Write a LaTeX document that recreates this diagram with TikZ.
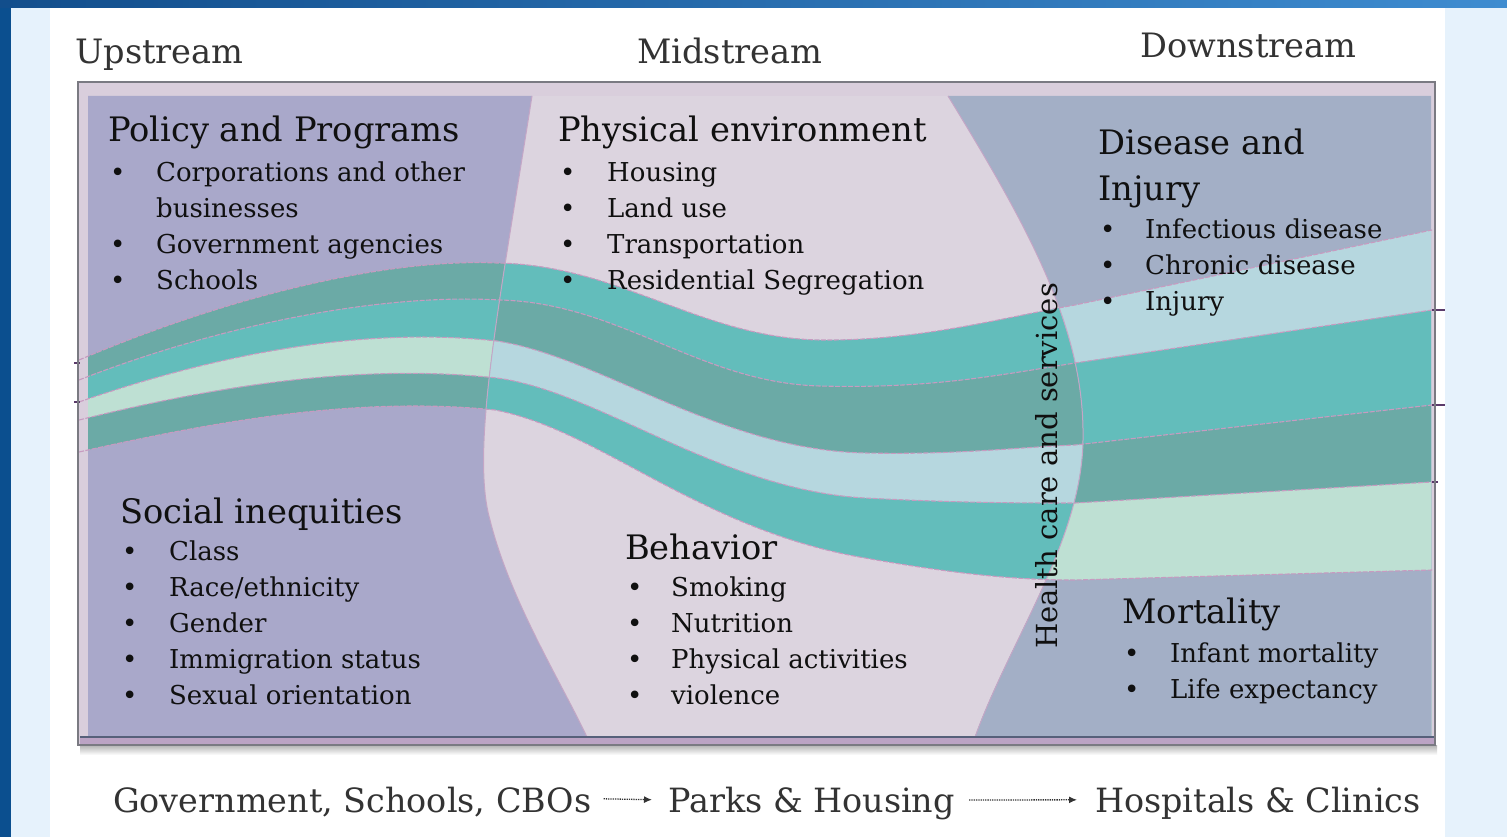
\documentclass[tikz,border=0pt]{standalone}
\usepackage{fontspec}
\setmainfont{DejaVu Serif}
\usetikzlibrary{arrows.meta}
\definecolor{bgblue}{HTML}{E6F2FC}
\definecolor{darkblue}{HTML}{0B4F8F}
\definecolor{topA}{HTML}{124E8C}
\definecolor{topB}{HTML}{3E8CD0}
\definecolor{framelilac}{HTML}{D9CEDC}
\definecolor{framegray}{HTML}{7A7A82}
\definecolor{leftbg}{HTML}{A9A8CA}
\definecolor{midbg}{HTML}{DCD4DF}
\definecolor{rightbg}{HTML}{A3AFC6}
\definecolor{dteal}{HTML}{6BAAA6}
\definecolor{teal}{HTML}{63BDBB}
\definecolor{mint}{HTML}{BEE0D3}
\definecolor{lblue}{HTML}{B6D7DF}
\definecolor{bandline}{HTML}{C79BC0}
\definecolor{boundline}{HTML}{C4A6C6}
\definecolor{ink}{HTML}{101010}
\definecolor{streamgray}{HTML}{333333}
\definecolor{bottomstrip}{HTML}{BBA3C4}
\definecolor{bottomline}{HTML}{56607A}
\definecolor{tickc}{HTML}{5A3A6A}
\begin{document}
\begin{tikzpicture}[x=1pt,y=-1pt,
  head/.style={font=\fontsize{33.7}{46}\selectfont, text=ink, anchor=base west, inner sep=0pt},
  lst/.style={font=\fontsize{26}{36}\selectfont, text=ink, anchor=base west, inner sep=0pt},
  stream/.style={font=\fontsize{33.6}{38}\selectfont, text=streamgray, anchor=base west, inner sep=0pt},
  flowtxt/.style={font=\fontsize{33.4}{40}\selectfont, text=streamgray, anchor=base west, inner sep=0pt},
  flowarrow/.style={draw=streamgray, line width=1.3pt, densely dotted, -{Latex[length=8pt,width=7pt]}},
  bandedge/.style={draw=bandline, line width=1.1pt, dash pattern=on 5pt off 1.5pt},
  bound/.style={draw=boundline, line width=1pt},
  c0/.style={insert path={(79,360) .. controls (220,300) and (380,258) .. (497,263) .. controls (620,265) and (700,338) .. (820,340) .. controls (920,341) and (1000,318) .. (1075,305) -- (1432,230)}},
  c1/.style={insert path={(79,380) .. controls (220,325) and (380,293) .. (500,300) .. controls (620,303) and (700,383) .. (820,386) .. controls (930,389) and (1000,375) .. (1075,363) -- (1432,310)}},
  c2/.style={insert path={(79,402) .. controls (200,360) and (350,325) .. (497,341) .. controls (600,357) and (720,450) .. (865,453) .. controls (960,455) and (1020,447) .. (1075,445) -- (1432,405)}},
  c3/.style={insert path={(79,420) .. controls (200,390) and (350,362) .. (497,378) .. controls (600,392) and (720,490) .. (865,498) .. controls (960,503) and (1020,503) .. (1075,503) -- (1432,482)}},
  c4/.style={insert path={(79,452) .. controls (200,425) and (350,395) .. (495,410) .. controls (600,430) and (700,530) .. (865,558) .. controls (960,575) and (1020,580) .. (1075,580) -- (1432,570)}},
  leftreg/.style={insert path={(88,96) -- (532,96) .. controls (500,300) and (470,450) .. (490,520) .. controls (510,600) and (560,680) .. (587,737) -- (88,737) -- cycle}},
  midreg/.style={insert path={(532,96) -- (948,96) .. controls (1030,230) and (1085,330) .. (1083,440) .. controls (1082,540) and (1010,640) .. (975,737) -- (587,737) .. controls (560,680) and (510,600) .. (490,520) .. controls (470,450) and (500,300) .. (532,96) -- cycle}},
  rightreg/.style={insert path={(948,96) -- (1431,96) -- (1431,737) -- (975,737) .. controls (1010,640) and (1082,540) .. (1083,440) .. controls (1085,330) and (1030,230) .. (948,96) -- cycle}}
]
\useasboundingbox (0,0) rectangle (1507,837);
% page background
\fill[bgblue] (0,0) rectangle (1507,837);
\fill[darkblue] (0,0) rectangle (11,837);
\shade[left color=topA, right color=topB] (0,0) rectangle (1507,8);
\fill[white] (50,8) rectangle (1445,837);
% frame
\shade[top color=black!30, bottom color=white] (80,745) rectangle (1437,755);
\fill[framelilac] (78,82) rectangle (1435,745);
% left region
\begin{scope}
\path[clip, leftreg];
\fill[leftbg] (70,80) rectangle (1440,745);
\fill[dteal, c0] -- (1440,760) -- (70,760) -- cycle;
\fill[teal, c1] -- (1440,760) -- (70,760) -- cycle;
\fill[mint, c2] -- (1440,760) -- (70,760) -- cycle;
\fill[dteal, c3] -- (1440,760) -- (70,760) -- cycle;
\fill[leftbg, c4] -- (1440,760) -- (70,760) -- cycle;
\end{scope}
% middle region
\begin{scope}
\path[clip, midreg];
\fill[midbg] (70,80) rectangle (1440,745);
\fill[teal, c0] -- (1440,760) -- (70,760) -- cycle;
\fill[dteal, c1] -- (1440,760) -- (70,760) -- cycle;
\fill[lblue, c2] -- (1440,760) -- (70,760) -- cycle;
\fill[teal, c3] -- (1440,760) -- (70,760) -- cycle;
\fill[midbg, c4] -- (1440,760) -- (70,760) -- cycle;
\end{scope}
% right region
\begin{scope}
\path[clip, rightreg];
\fill[rightbg] (70,80) rectangle (1440,745);
\fill[lblue, c0] -- (1440,760) -- (70,760) -- cycle;
\fill[teal, c1] -- (1440,760) -- (70,760) -- cycle;
\fill[dteal, c2] -- (1440,760) -- (70,760) -- cycle;
\fill[mint, c3] -- (1440,760) -- (70,760) -- cycle;
\fill[rightbg, c4] -- (1440,760) -- (70,760) -- cycle;
\end{scope}
% region boundaries
\draw[bound] (532,96) .. controls (500,300) and (470,450) .. (490,520) .. controls (510,600) and (560,680) .. (587,737);
\draw[bound] (948,96) .. controls (1030,230) and (1085,330) .. (1083,440) .. controls (1082,540) and (1010,640) .. (975,737);
% band edges
\path[bandedge, c0];
\path[bandedge, c1];
\path[bandedge, c2];
\path[bandedge, c3];
\path[bandedge, c4];
% ticks on the frame
\draw[tickc, line width=1.5pt] (1432,310) -- (1445,310);
\draw[tickc, line width=1.5pt] (1432,405) -- (1445,405);
\draw[tickc, line width=1.2pt] (1432,482) -- (1438,482);
\draw[tickc, line width=1.2pt] (74,363) -- (80,363);
\draw[tickc, line width=1.2pt] (74,402) -- (80,402);
% bottom strip and frame border
\fill[bottomstrip] (80,737) rectangle (1434,745);
\draw[bottomline, line width=1.5pt] (80,737) -- (1434,737);
\draw[framegray, line width=2pt] (78,82) rectangle (1435,745);
% stream labels
\node[stream] (up) at (75,64) {Upstream};
\node[stream] (mid) at (637,64) {Midstream};
\node[stream] (down) at (1140,58) {Downstream};
% upper-left
\node[head] (pol) at (108,142) {Policy and Programs};
\node[lst] (pollist) at (110,182) {\begin{tabular}[t]{@{}p{46pt}@{}l@{}}\textbullet & Corporations and other\\ & businesses\\ \textbullet & Government agencies\\ \textbullet & Schools\end{tabular}};
% upper-middle
\node[head] (phys) at (558,142) {Physical environment};
\node[lst] (physlist) at (560,182) {\begin{tabular}[t]{@{}p{47pt}@{}l@{}}\textbullet & Housing\\ \textbullet & Land use\\ \textbullet & Transportation\\ \textbullet & Residential Segregation\end{tabular}};
% upper-right
\node[head] (dis) at (1098,155) {\begin{tabular}[t]{@{}l@{}}Disease and\\ Injury\end{tabular}};
\node[lst] (dislist) at (1100,238) {\begin{tabular}[t]{@{}p{45pt}@{}l@{}}\textbullet & Infectious disease\\ \textbullet & Chronic disease\\ \textbullet & Injury\end{tabular}};
% lower-left
\node[head] (soc) at (120,523) {Social inequities};
\node[lst] (soclist) at (122,560) {\begin{tabular}[t]{@{}p{47pt}@{}l@{}}\textbullet & Class\\ \textbullet & Race/ethnicity\\ \textbullet & Gender\\ \textbullet & Immigration status\\ \textbullet & Sexual orientation\end{tabular}};
% lower-middle
\node[head] (beh) at (625,559) {Behavior};
\node[lst] (behlist) at (627,596) {\begin{tabular}[t]{@{}p{44pt}@{}l@{}}\textbullet & Smoking\\ \textbullet & Nutrition\\ \textbullet & Physical activities\\ \textbullet & violence\end{tabular}};
% lower-right
\node[head] (mort) at (1122,623) {Mortality};
\node[lst] (mortlist) at (1124,662) {\begin{tabular}[t]{@{}p{46pt}@{}l@{}}\textbullet & Infant mortality\\ \textbullet & Life expectancy\end{tabular}};
% vertical label
\node[font=\fontsize{29}{34}\selectfont, text=ink, rotate=90, inner sep=0pt] (hc) at (1047,466) {Health care and services};
% bottom flow
\node[flowtxt] (gov) at (113,812) {Government, Schools, CBOs};
\node[flowtxt] (parks) at (668,812) {Parks \& Housing};
\node[flowtxt] (hosp) at (1095,812) {Hospitals \& Clinics};
\draw[flowarrow, shorten <=12pt, shorten >=16pt] ([yshift=3pt]gov.east) -- ([yshift=3pt]parks.west);
\draw[flowarrow, shorten <=14pt, shorten >=18pt] ([yshift=3pt]parks.east) -- ([yshift=3pt]hosp.west);
\end{tikzpicture}
\end{document}
